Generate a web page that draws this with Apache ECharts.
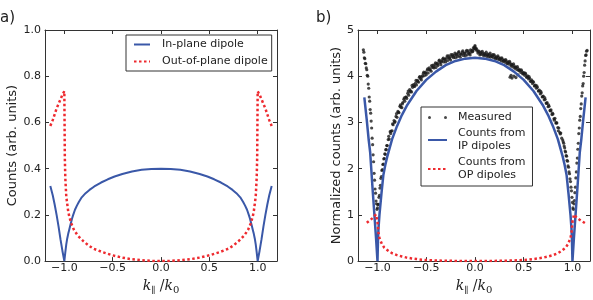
<!DOCTYPE html>
<html><head><meta charset="utf-8">
<script src="https://cdn.jsdelivr.net/npm/echarts@6/dist/echarts.min.js"></script>
<style>html,body{margin:0;padding:0;background:#fff}#c{width:593px;height:300px}</style>
</head><body><div id="c"></div>
<script>
// ---------- Data ----------
const xTicks = [-1, -0.5, 0, 0.5, 1];
const yTicksA = [0, 0.2, 0.4, 0.6, 0.8, 1.0];
const yTicksB = [0, 1, 2, 3, 4, 5];

// Panel a) In-plane dipole
const aInX = [-1.145,-1.12,-1.1,-1.08,-1.06,-1.04,-1.02,-1.0,-0.99,-0.98,-0.97,-0.96,-0.95,-0.94,-0.93,-0.92,-0.91,-0.89,-0.87,-0.85,-0.82,-0.78,-0.74,-0.69,-0.62,-0.55,-0.48,-0.4,-0.3,-0.2,-0.1,0,
  0.1,0.2,0.3,0.4,0.48,0.55,0.62,0.69,0.74,0.78,0.82,0.85,0.87,0.89,0.91,0.92,0.93,0.94,0.95,0.96,0.97,0.98,0.99,1.0,1.02,1.04,1.06,1.08,1.1,1.12,1.145];
const aInY = [0.325,0.285,0.245,0.2,0.15,0.095,0.045,0,0.038,0.072,0.098,0.118,0.135,0.152,0.168,0.184,0.198,0.222,0.240,0.256,0.276,0.294,0.308,0.323,0.340,0.354,0.366,0.377,0.388,0.395,0.399,0.4,
  0.399,0.395,0.388,0.377,0.366,0.354,0.340,0.323,0.308,0.294,0.276,0.256,0.240,0.222,0.198,0.184,0.168,0.152,0.135,0.118,0.098,0.072,0.038,0,0.045,0.095,0.15,0.2,0.245,0.285,0.325];
// Panel a) Out-of-plane dipole
const aOutX = [-1.145,-1.12,-1.1,-1.08,-1.06,-1.04,-1.02,-1.0,-0.995,-0.99,-0.98,-0.96,-0.95,-0.93,-0.9,-0.86,-0.8,-0.75,-0.7,-0.6,-0.5,-0.4,-0.3,-0.2,-0.1,0,
  0.1,0.2,0.3,0.4,0.5,0.6,0.7,0.75,0.8,0.86,0.9,0.93,0.95,0.96,0.98,0.99,0.995,1.0,1.02,1.04,1.06,1.08,1.1,1.12,1.145];
const aOutY = [0.585,0.61,0.635,0.66,0.68,0.70,0.72,0.735,0.45,0.36,0.28,0.215,0.195,0.165,0.135,0.11,0.085,0.068,0.054,0.038,0.025,0.015,0.008,0.004,0.001,0,
  0.001,0.004,0.008,0.015,0.025,0.038,0.054,0.068,0.085,0.11,0.135,0.165,0.195,0.215,0.28,0.36,0.45,0.735,0.72,0.70,0.68,0.66,0.635,0.61,0.585];

// Panel b) Counts from IP dipoles
const bIpX = [-1.135,-1.11,-1.09,-1.075,-1.05,-1.03,-1.015,-1.0,-0.995,-0.99,-0.98,-0.96,-0.94,-0.92,-0.9,-0.85,-0.8,-0.75,-0.7,-0.6,-0.5,-0.4,-0.3,-0.2,-0.1,0,
  0.1,0.2,0.3,0.4,0.5,0.6,0.7,0.75,0.8,0.85,0.9,0.92,0.94,0.96,0.98,0.99,0.995,1.0,1.015,1.03,1.05,1.075,1.09,1.11,1.135];
const bIpY = [3.54,3.05,2.62,2.35,1.55,0.95,0.5,0,0.45,0.7,1.0,1.45,1.86,2.08,2.26,2.64,2.92,3.16,3.36,3.68,3.92,4.10,4.24,4.33,4.38,4.4,
  4.38,4.33,4.24,4.10,3.92,3.68,3.36,3.16,2.92,2.64,2.26,2.08,1.86,1.45,1.0,0.7,0.45,0,0.5,0.95,1.55,2.35,2.62,3.05,3.54];
// Panel b) Counts from OP dipoles
const bOpX = [-1.11,-1.08,-1.05,-1.03,-1.016,-1.0,-0.99,-0.98,-0.955,-0.93,-0.887,-0.85,-0.8,-0.75,-0.7,-0.65,-0.6,-0.545,-0.5,-0.4,-0.34,-0.2,-0.1,0,
  0.1,0.2,0.34,0.4,0.5,0.545,0.6,0.65,0.7,0.75,0.8,0.85,0.887,0.93,0.955,0.98,0.99,1.0,1.016,1.04,1.07,1.1,1.13,1.15];
const bOpY = [0.83,0.88,0.93,0.97,1.01,0.85,0.62,0.5,0.37,0.29,0.22,0.17,0.13,0.10,0.075,0.058,0.045,0.03,0.024,0.014,0.01,0.004,0.001,0,
  0.001,0.004,0.01,0.014,0.024,0.03,0.045,0.058,0.075,0.10,0.13,0.17,0.22,0.29,0.37,0.5,0.62,0.85,1.01,0.95,0.9,0.86,0.82,0.8];

// Panel b) Measured, sampled on regular x-steps per segment
const measLeftOuter = {start:-1.145, step:0.005, y:[4.57,4.52,4.40,4.38,4.28,4.27,4.18,4.14,4.02,4.00,3.83,3.74,3.55,3.46,3.28,3.20,3.03,2.88,2.66,2.52,2.30,2.15,1.90,1.75,1.56,1.47,1.30,1.24,1.12]};
const measLeftInner = {start:-1.0, step:0.005, y:[1.15,1.22,1.23,1.38,1.42,1.58,1.64,1.79,1.83,1.96,1.98,2.09,2.10,2.21,2.22,2.32,2.31,2.41,2.41,2.50,2.50]};
const measMiddle = {start:-0.89, step:0.01, y:[
  2.63,2.64,2.80,2.81,2.82,2.95,3.04,3.02,3.13,3.11,3.24,3.21,3.35,3.33,3.32,3.43,3.50,3.46,3.55,3.52,
  3.63,3.59,3.71,3.68,3.66,3.76,3.82,3.78,3.85,3.81,3.91,3.87,3.98,3.95,3.92,4.01,4.06,4.01,4.08,4.03,
  4.13,4.07,4.18,4.14,4.11,4.19,4.24,4.18,4.25,4.19,4.28,4.23,4.33,4.29,4.25,4.33,4.37,4.31,4.37,4.31,
  4.40,4.34,4.44,4.39,4.35,4.43,4.47,4.40,4.45,4.40,4.48,4.42,4.51,4.45,4.41,4.48,4.52,4.45,4.50,4.44,
  4.53,4.46,4.55,4.49,4.46,4.52,4.56,4.55,4.60,
  4.64,
  4.58,4.55,4.50,4.53,4.46,4.52,4.47,4.50,4.44,4.49,4.46,4.43,4.48,4.42,4.46,4.41,4.44,4.47,4.40,4.44,
  4.38,4.42,4.37,4.41,4.36,4.39,4.33,4.37,4.32,4.35,4.30,4.33,4.27,4.31,4.26,4.29,4.22,4.25,4.20,4.23,
  4.17,4.20,4.14,4.17,4.12,4.14,4.08,4.11,4.05,4.08,4.02,4.05,3.98,4.01,3.94,3.96,3.89,3.92,3.84,3.87,
  3.79,3.81,3.74,3.76,3.68,3.70,3.62,3.64,3.55,3.57,3.49,3.50,3.42,3.43,3.34,3.35,3.26,3.27,3.17,3.18,
  3.08,3.09,2.99,2.99,2.89,2.88,2.78,2.77,2.66]};
const measMiddle2 = {start:-0.885, step:0.02, y:[
  2.70,2.76,2.97,3.00,3.19,3.22,3.38,3.40,3.53,3.55,3.68,3.66,3.80,3.79,3.91,3.89,3.99,3.98,4.09,4.07,
  4.16,4.14,4.23,4.20,4.29,4.26,4.35,4.31,4.39,4.36,4.44,4.39,4.47,4.43,4.50,4.46,4.53,4.48,4.55,4.49,
  4.56,4.51,4.57,4.53,4.61,4.60,4.55,4.49,4.54,4.47,4.52,4.46,4.50,4.43,4.47,4.40,4.44,4.37,4.40,4.34,
  4.36,4.29,4.32,4.25,4.27,4.19,4.21,4.13,4.14,4.06,4.07,3.98,3.99,3.89,3.89,3.79,3.79,3.68,3.67,3.56,
  3.54,3.41,3.38,3.25,3.20,3.05,2.99,2.82,2.75]};
const measRightInner = {start:0.9, step:0.005, y:[2.62,2.58,2.55,2.49,2.45,2.38,2.36,2.28,2.27,2.18,2.16,2.06,2.03,1.93,1.89,1.78,1.72,1.60,1.52,1.38,1.27,1.15]};
const measRightOuter = {start:1.01, step:0.005, y:[1.12,1.24,1.31,1.48,1.60,1.80,1.93,2.12,2.23,2.42,2.55,2.76,2.88,3.05,3.13,3.30,3.40,3.57,3.64,3.79,3.84,4.00,4.08,4.24,4.33,4.45,4.46,4.54,4.56]};
const measExtraX = [-0.015,0.0,0.005,0.36,0.37,0.38,0.40,0.42,0.44];
const measExtraY = [4.62,4.66,4.60,3.98,4.02,3.96,4.00,3.97,4.03];

// ---------- Build ----------
const pairs = (xs, ys) => xs.map((x, i) => [x, ys[i]]);
const seg = s => s.y.map((y, i) => [+(s.start + i * s.step).toFixed(3), y]);
const measured = [].concat(seg(measLeftOuter), seg(measLeftInner), seg(measMiddle), seg(measMiddle2),
  seg(measRightInner), seg(measRightOuter), pairs(measExtraX, measExtraY));

const FONT = 'DejaVu Sans';
const AX = '#333';
const TXT = '#222';
const BLUE = '#3a58a8';
const RED = '#ee2a2f';
const fmtX = v => (v < 0 ? '\u2212' : '') + Math.abs(v).toFixed(1);

const xName = '{k|k}{s|\u2225}{n| /}{k|k}{s0|0}';
const xRich = {
  k: {fontFamily: 'DejaVu Serif', fontStyle: 'italic', fontSize: 14, color: TXT, lineHeight: 18},
  n: {fontFamily: 'DejaVu Serif', fontSize: 14, color: TXT, lineHeight: 18},
  s: {fontFamily: 'DejaVu Serif', fontSize: 9, color: TXT, verticalAlign: 'bottom', lineHeight: 12},
  s0: {fontFamily: 'DejaVu Serif', fontSize: 10, color: TXT, verticalAlign: 'bottom', lineHeight: 12}
};

function xPair(grid, min, max) {
  const base = {type: 'value', gridIndex: grid, min, max, splitLine: {show: false},
    axisLine: {show: true, onZero: false, lineStyle: {color: AX, width: 1}},
    axisTick: {show: true, inside: true, length: 4, customValues: xTicks, lineStyle: {color: AX}}};
  return [
    Object.assign({}, base, {position: 'bottom',
      axisLabel: {show: true, customValues: xTicks, formatter: fmtX, fontSize: 11, fontFamily: FONT, color: TXT, margin: 2},
      name: xName, nameLocation: 'middle', nameGap: 15, nameTextStyle: {rich: xRich}}),
    Object.assign({}, base, {position: 'top', axisLabel: {show: false}})
  ];
}
function yPair(grid, ticks, fmt, name, gap) {
  const base = {type: 'value', gridIndex: grid, min: ticks[0], max: ticks[ticks.length - 1],
    interval: ticks[1] - ticks[0], splitLine: {show: false},
    axisLine: {show: true, onZero: false, lineStyle: {color: AX, width: 1}},
    axisTick: {show: true, inside: true, length: 4, lineStyle: {color: AX}}};
  return [
    Object.assign({}, base, {position: 'left',
      axisLabel: {show: true, formatter: fmt, fontSize: 11, fontFamily: FONT, color: TXT, margin: 4},
      name, nameLocation: 'middle', nameGap: gap,
      nameTextStyle: {fontSize: 13, fontFamily: FONT, color: TXT}}),
    Object.assign({}, base, {position: 'right', axisLabel: {show: false}})
  ];
}

const legendText = {fontSize: 11, fontFamily: FONT, color: TXT, lineHeight: 13};
const noSym = {opacity: 0, color: 'rgba(0,0,0,0)', borderWidth: 0};

const option = {
  animation: false,
  backgroundColor: '#fff',
  title: [
    {text: 'a)', left: 0, top: 11, padding: 0, textStyle: {fontSize: 15, fontWeight: 'normal', fontFamily: FONT, color: TXT}},
    {text: 'b)', left: 316, top: 11, padding: 0, textStyle: {fontSize: 15, fontWeight: 'normal', fontFamily: FONT, color: TXT}}
  ],
  grid: [
    {left: 45, top: 30, width: 232, height: 232},
    {left: 358, top: 30, width: 232, height: 232}
  ],
  xAxis: [].concat(xPair(0, -1.2, 1.2), xPair(1, -1.2, 1.18)),
  yAxis: [].concat(
    yPair(0, yTicksA, v => v.toFixed(1), 'Counts (arb. units)', 24),
    yPair(1, yTicksB, v => String(v), 'Normalized counts (arb. units)', 12)),
  legend: [
    {left: 126, top: 35, orient: 'vertical',
      data: [{name: 'In-plane dipole', itemStyle: noSym}, {name: 'Out-of-plane dipole', itemStyle: noSym}],
      itemWidth: 16, itemHeight: 8, itemGap: 4, padding: [3, 4, 3, 7],
      borderColor: '#333', borderWidth: 1, borderRadius: 0, backgroundColor: '#fff',
      textStyle: Object.assign({padding: [0, 0, 0, 7]}, legendText)},
    {left: 421, top: 107, orient: 'vertical',
      data: [{name: 'Measured', icon: 'path://M0,1.5a1.5,1.5 0 1,1 3,0a1.5,1.5 0 1,1 -3,0zM16,1.5a1.5,1.5 0 1,1 3,0a1.5,1.5 0 1,1 -3,0z'},
             {name: 'Counts from\nIP dipoles', itemStyle: noSym}, {name: 'Counts from\nOP dipoles', itemStyle: noSym}],
      itemWidth: 19, itemHeight: 8, itemGap: 3, padding: [4, 7, 4, 6],
      borderColor: '#333', borderWidth: 1, borderRadius: 0, backgroundColor: '#fff',
      textStyle: Object.assign({padding: [0, 0, 0, 6]}, legendText)}
  ],
  series: [
    {name: 'In-plane dipole', type: 'line', xAxisIndex: 0, yAxisIndex: 0, data: pairs(aInX, aInY),
      symbol: 'none', lineStyle: {color: BLUE, width: 2}, itemStyle: {color: BLUE}, z: 3},
    {name: 'Out-of-plane dipole', type: 'line', xAxisIndex: 0, yAxisIndex: 0, data: pairs(aOutX, aOutY),
      symbol: 'none', lineStyle: {color: RED, width: 2.5, type: [2.5, 2.5], cap: 'butt'}, itemStyle: {color: RED}, z: 4},
    {name: 'Measured', type: 'scatter', xAxisIndex: 2, yAxisIndex: 2, data: measured,
      symbol: 'circle', symbolSize: 3.2, itemStyle: {color: '#1a1a1a'}, z: 2},
    {name: 'Counts from\nIP dipoles', type: 'line', xAxisIndex: 2, yAxisIndex: 2, data: pairs(bIpX, bIpY),
      symbol: 'none', lineStyle: {color: BLUE, width: 2.5}, itemStyle: {color: BLUE}, z: 3},
    {name: 'Counts from\nOP dipoles', type: 'line', xAxisIndex: 2, yAxisIndex: 2, data: pairs(bOpX, bOpY),
      symbol: 'none', lineStyle: {color: RED, width: 2.5, type: [2.5, 2.5], cap: 'butt'}, itemStyle: {color: RED}, z: 4}
  ]
};

const chart = echarts.init(document.getElementById('c'), null, {renderer: 'canvas'});
chart.setOption(option);
</script></body></html>
